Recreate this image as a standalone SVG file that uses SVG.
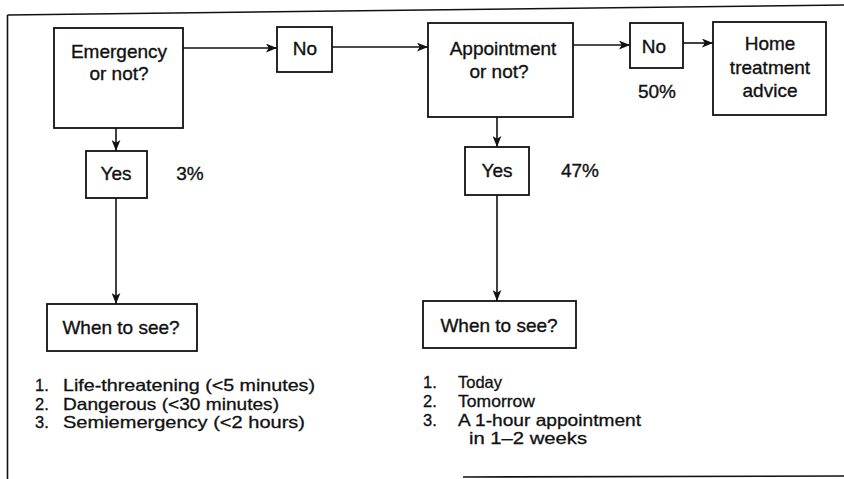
<svg xmlns="http://www.w3.org/2000/svg" width="844" height="479" viewBox="0 0 844 479">
  <style>
    .box { fill: #fff; stroke: #111; stroke-width: 1.8; }
    .lbl { font-family: "Liberation Sans", Arial, sans-serif; font-size: 19px; fill: #111; stroke: #111; stroke-width: 0.35; text-anchor: middle; }
    .lst { font-family: "Liberation Sans", Arial, sans-serif; font-size: 16.5px; fill: #111; stroke: #111; stroke-width: 0.3; }
    .edge { fill: none; stroke: #111; stroke-width: 1.6; marker-end: url(#arr); }
    .frame { fill: none; stroke: #111; stroke-width: 1.6; }
  </style>
  <defs>
    <marker id="arr" viewBox="0 0 10 8" refX="10" refY="4" markerWidth="11" markerHeight="9" markerUnits="userSpaceOnUse" orient="auto">
      <path d="M0,0 L10,4 L0,8 L2.5,4 Z" fill="#111"/>
    </marker>
  </defs>
  <rect x="0" y="0" width="844" height="479" fill="#fff"/>

  <g id="frame">
    <line class="frame" x1="7.5" y1="15" x2="844" y2="5"/>
    <line class="frame" x1="7.5" y1="15" x2="7.5" y2="479"/>
    <line class="frame" x1="463" y1="477" x2="844" y2="476"/>
  </g>

  <g id="connectors">
    <line class="edge" x1="183" y1="48" x2="277" y2="48"/>
    <line class="edge" x1="332" y1="47" x2="428" y2="47"/>
    <line class="edge" x1="573" y1="45" x2="630" y2="45"/>
    <line class="edge" x1="683" y1="43" x2="713" y2="43"/>
    <line class="edge" x1="116" y1="128" x2="116" y2="151"/>
    <line class="edge" x1="116" y1="198" x2="116" y2="304"/>
    <line class="edge" x1="497" y1="117" x2="497" y2="147"/>
    <line class="edge" x1="497" y1="195" x2="497" y2="301"/>
  </g>

  <g id="emergency">
    <rect class="box" x="54" y="28" width="129" height="100"/>
    <text class="lbl" x="119" y="58">Emergency</text>
    <text class="lbl" x="119" y="80">or not?</text>
  </g>
  <g id="no1">
    <rect class="box" x="277" y="27" width="55" height="45"/>
    <text class="lbl" x="305" y="55">No</text>
  </g>
  <g id="appointment">
    <rect class="box" x="428" y="23" width="145" height="94"/>
    <text class="lbl" x="503" y="55">Appointment</text>
    <text class="lbl" x="499" y="78">or not?</text>
  </g>
  <g id="no2">
    <rect class="box" x="630" y="23" width="53" height="45"/>
    <text class="lbl" x="654" y="53">No</text>
    <text class="lbl" x="657" y="98">50%</text>
  </g>
  <g id="home">
    <rect class="box" x="713" y="22" width="113" height="93"/>
    <text class="lbl" x="770" y="50">Home</text>
    <text class="lbl" x="770" y="74">treatment</text>
    <text class="lbl" x="770" y="97">advice</text>
  </g>
  <g id="yes1">
    <rect class="box" x="86" y="151" width="61" height="47"/>
    <text class="lbl" x="116" y="180">Yes</text>
    <text class="lbl" x="190" y="180">3%</text>
  </g>
  <g id="when1">
    <rect class="box" x="47" y="304" width="150" height="47"/>
    <text class="lbl" x="121" y="334">When to see?</text>
  </g>
  <g id="yes2">
    <rect class="box" x="465" y="147" width="64" height="48"/>
    <text class="lbl" x="497" y="177">Yes</text>
    <text class="lbl" x="580" y="177">47%</text>
  </g>
  <g id="when2">
    <rect class="box" x="423" y="301" width="153" height="47"/>
    <text class="lbl" x="499" y="332">When to see?</text>
  </g>

  <g id="list-emergency">
    <text class="lst" x="35" y="391">1.</text>
    <text class="lst" x="63" y="391" textLength="252" lengthAdjust="spacingAndGlyphs">Life-threatening (&lt;5 minutes)</text>
    <text class="lst" x="35" y="409.5">2.</text>
    <text class="lst" x="63" y="409.5" textLength="216" lengthAdjust="spacingAndGlyphs">Dangerous (&lt;30 minutes)</text>
    <text class="lst" x="35" y="428">3.</text>
    <text class="lst" x="63" y="428" textLength="242" lengthAdjust="spacingAndGlyphs">Semiemergency (&lt;2 hours)</text>
  </g>
  <g id="list-appointment">
    <text class="lst" x="423" y="388">1.</text>
    <text class="lst" x="458" y="388" textLength="44" lengthAdjust="spacingAndGlyphs">Today</text>
    <text class="lst" x="423" y="407">2.</text>
    <text class="lst" x="458" y="407" textLength="77" lengthAdjust="spacingAndGlyphs">Tomorrow</text>
    <text class="lst" x="423" y="426">3.</text>
    <text class="lst" x="458" y="426" textLength="183" lengthAdjust="spacingAndGlyphs">A 1-hour appointment</text>
    <text class="lst" x="469" y="444" textLength="118" lengthAdjust="spacingAndGlyphs">in 1–2 weeks</text>
  </g>
</svg>
